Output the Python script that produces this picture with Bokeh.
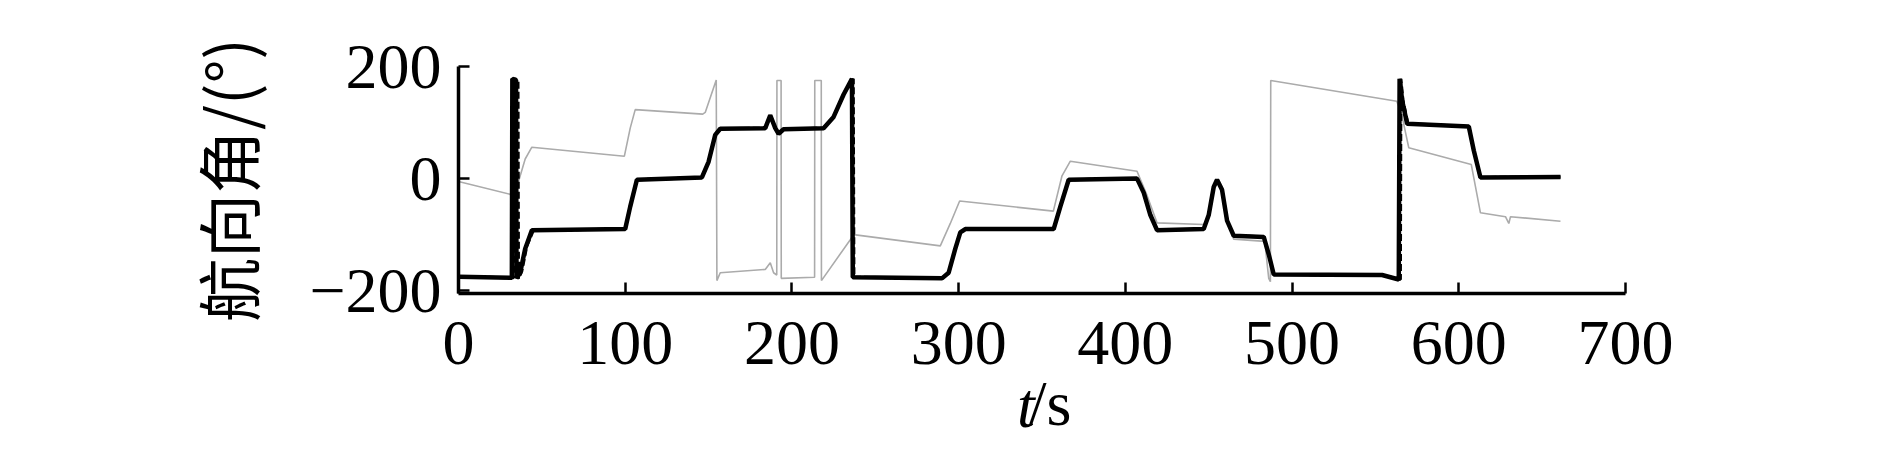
from bokeh.plotting import figure
from bokeh.models import Range1d, FixedTicker, LinearAxis
from bokeh.embed import file_html
from bokeh.resources import INLINE

# ---- data ----
t_solid = [0, 32, 32.3, 34.5, 34.8, 37, 40, 44, 100, 103, 107, 146, 150, 154, 157, 184, 187, 190, 192, 195,
           219, 225, 231, 236, 236.5, 290, 294, 298, 301, 304, 357, 361, 366, 407, 411, 415, 419, 447, 450,
           453, 455, 458, 461, 465, 483, 486, 489, 554, 564, 564.5, 566, 569, 606, 609, 613, 661]
v_solid = [-175, -177, 178, 176, -178, -168, -125, -92, -90, -50, -2, 2, 30, 78, 89, 90, 113, 90, 80, 88,
           90, 110, 150, 178, -176, -178, -168, -125, -96, -90, -90, -50, -2, 0, -25, -65, -92, -90, -65,
           -15, -2, -20, -75, -102, -104, -135, -171, -172, -180, 178, 140, 98, 93, 50, 2, 3]

t_dash = [0, 33, 33.3, 35.7, 36, 38, 41, 45, 100, 103, 107, 146, 150, 154, 157, 184, 187, 190, 192, 195,
          219, 225, 231, 236.8, 237.2, 290, 294, 298, 301, 304, 357, 361, 366, 407, 411, 415, 419, 447, 450,
          453, 455, 458, 461, 465, 483, 486, 489, 554, 565, 565.3, 566.5, 569.5, 606, 609, 613, 661]
v_dash = [-175, -177, 178, 176, -178, -165, -120, -92, -90, -50, -2, 2, 30, 78, 89, 90, 113, 90, 80, 88,
          90, 110, 150, 178, -176, -178, -168, -125, -96, -90, -90, -50, -2, 0, -25, -65, -92, -90, -65,
          -15, -2, -20, -75, -102, -104, -135, -171, -172, -180, 178, 140, 98, 93, 50, 2, 3]

t_gray = [0, 31, 33, 36, 40, 44, 99.5, 103, 106, 146.5, 148, 154.6, 155, 157, 184, 187, 189, 190.9, 191,
          193.5, 193.6, 213.6, 213.7, 217.6, 217.7, 235, 237, 289, 295, 300.6, 356.8, 362, 367, 407, 413,
          419, 447, 450, 453, 455, 458, 462, 465, 483.6, 486, 487, 487.2, 562.8, 565.7, 570, 607.5, 613,
          628, 630, 631, 661]
v_gray = [-5, -28, -38, -5, 35, 56, 40, 90, 123, 115, 118, 176, -182, -168, -162, -150, -168, -172, 175,
          175, -178, -176, 175, 175, -182, -109, -100, -120, -80, -40, -58, 5, 31, 13, -30,
          -79, -82, -65, -18, -6, -24, -82, -108, -112, -178, -184, 175, 138, 115, 55, 25, -61,
          -68, -80, -68, -76]

x_ticks = [0, 100, 200, 300, 400, 500, 600, 700]
y_ticks = [-200, 0, 200]

SERIF = "Liberation Serif"

p = figure(width=1874, height=470, x_range=Range1d(0, 700), y_range=Range1d(-205, 200),
           output_backend="svg", toolbar_location=None,
           min_border_left=458, min_border_right=249, min_border_top=66, min_border_bottom=177)
p.outline_line_color = None
p.xgrid.visible = False
p.ygrid.visible = False
p.background_fill_color = "white"
p.border_fill_color = "white"

p.line(t_gray, v_gray, line_color="#ababab", line_width=1.6)
p.line(t_solid, v_solid, line_color="black", line_width=4.5)
p.line(t_dash, v_dash, line_color="black", line_width=3, line_dash="7 3")

for ax in (p.xaxis[0], p.yaxis[0]):
    ax.axis_line_width = 3.5
    ax.axis_line_color = "black"
    ax.major_tick_in = 11
    ax.major_tick_out = 0
    ax.major_tick_line_width = 2.5
    ax.minor_tick_in = 0
    ax.minor_tick_out = 0
    ax.major_label_text_font = SERIF
    ax.major_label_text_font_size = "64px"
    ax.major_label_text_color = "black"

p.xaxis.ticker = FixedTicker(ticks=x_ticks)
p.yaxis.ticker = FixedTicker(ticks=y_ticks)
p.xaxis.major_label_standoff = 28
p.yaxis.major_label_standoff = 17
p.yaxis.major_label_overrides = {-200: "\u2212200"}

p.yaxis.axis_label = "航向角/(°)"
p.yaxis.axis_label_text_font = "Noto Sans CJK SC"
p.yaxis.axis_label_text_font_style = "normal"
p.yaxis.axis_label_text_font_size = "64px"
p.yaxis.axis_label_text_color = "black"
p.yaxis.axis_label_standoff = 34

# x-axis title "t/s": upright "/s" on the main axis, italic "t" on a bare second axis
p.xaxis.axis_label = "\u00a0/s"
p.xaxis.axis_label_text_font = SERIF
p.xaxis.axis_label_text_font_style = "normal"
p.xaxis.axis_label_text_font_size = "64px"
p.xaxis.axis_label_text_color = "black"
p.xaxis.axis_label_standoff = 1

ax2 = LinearAxis(ticker=FixedTicker(ticks=[]), axis_line_color=None,
                 major_tick_in=0, major_tick_out=0, minor_tick_in=0, minor_tick_out=0,
                 axis_label="t\u00a0\u00a0", axis_label_text_font=SERIF,
                 axis_label_text_font_style="italic", axis_label_text_font_size="64px",
                 axis_label_text_color="black", axis_label_standoff=-72)
p.add_layout(ax2, "below")

open("out.html", "w").write(file_html(p, INLINE))
